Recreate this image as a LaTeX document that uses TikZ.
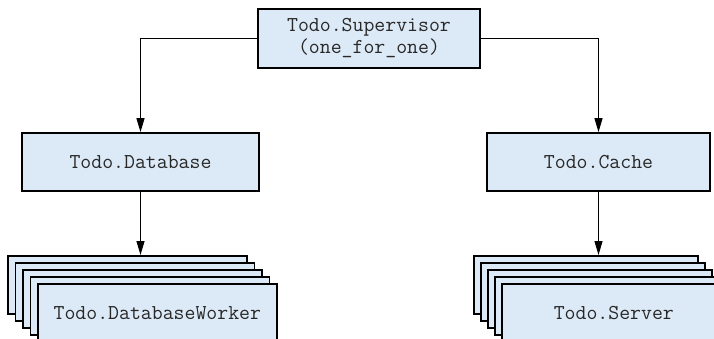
\documentclass[tikz,border=0pt]{standalone}
\usetikzlibrary{arrows.meta}
\definecolor{boxfill}{RGB}{220,233,246}
\definecolor{txt}{RGB}{40,40,40}
\begin{document}
\begin{tikzpicture}[x=1pt,y=-1pt,
  box/.style={draw=black, line width=1.7pt, fill=boxfill, inner sep=0pt,
    font=\ttfamily\fontsize{21.2}{22}\selectfont, text=txt, align=center},
  conn/.style={line width=1.1pt, -{Triangle[length=14pt,width=8pt]}}]
\path[use as bounding box] (0,0) rectangle (714,338);
\clip (0,0) rectangle (714,338);
% top level
\node[box, line width=1.3pt, minimum width=222pt, minimum height=59pt] (sup) at (369,38.5)
  {Todo.Supervisor\\(one\_for\_one)};
\node[box, minimum width=237pt, minimum height=58pt] (db) at (140.5,162) {Todo.Database};
\node[box, minimum width=223pt, minimum height=58pt] (cache) at (598.5,162) {Todo.Cache};
% left stack
\foreach \i in {0,1,2,3} {
  \node[box, minimum width=239pt, minimum height=58pt, anchor=north west]
    (L\i) at ({7+7.5*\i},{255+7*\i}) {};
}
\node[box, minimum width=239pt, minimum height=58pt, anchor=north west]
  (L4) at (37,283) {Todo.DatabaseWorker};
% right stack
\foreach \i in {0,1,2,3} {
  \node[box, minimum width=224pt, minimum height=58pt, anchor=north west]
    (R\i) at ({473+7*\i},{255+7*\i}) {};
}
\node[box, minimum width=224pt, minimum height=58pt, anchor=north west]
  (R4) at (501,283) {Todo.Server};
% connectors
\draw[conn] (sup.west) -| (db.north);
\draw[conn] (sup.east) -| (cache.north);
\draw[conn] (db.south) -- (db.south |- L0.north);
\draw[conn] (cache.south) -- (cache.south |- R0.north);
\end{tikzpicture}
\end{document}
